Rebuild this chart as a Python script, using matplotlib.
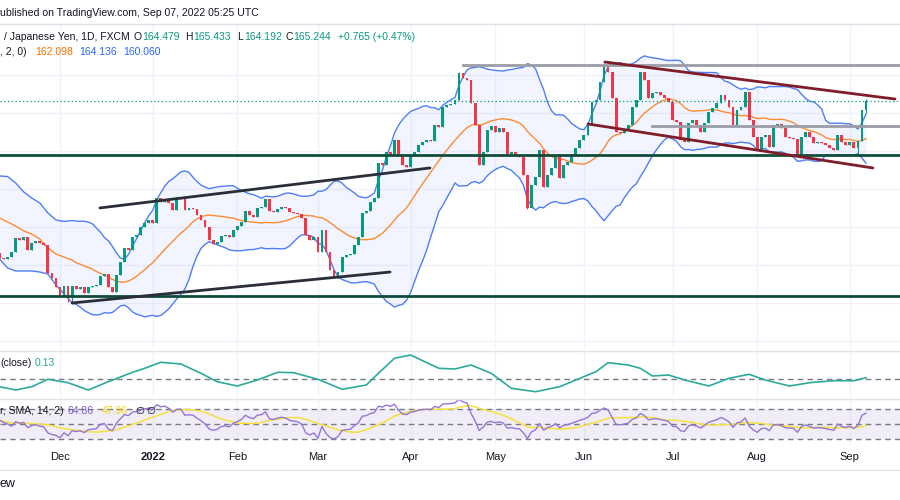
import numpy as np
import pandas as pd
import matplotlib
matplotlib.use("Agg")
import matplotlib.pyplot as plt

W, H = 900, 500

# ---------------- data ----------------
dates = pd.bdate_range("2021-11-10", "2022-09-07")   # daily bars GBP/JPY
first_open = 152.32
closes = [151.89, 151.81, 151.98, 152.40, 153.59, 153.42, 153.68, 152.57, 153.17, 153.34,
          153.17, 153.00, 150.62, 150.19, 149.43, 148.66, 149.51, 148.58, 149.51, 149.26,
          149.43, 148.92, 149.43, 149.51, 149.60, 150.36, 150.53, 149.43, 149.00, 150.45,
          151.55, 152.74, 152.57, 153.68, 153.85, 154.53, 154.87, 155.12, 154.87, 156.99,
          156.65, 156.91, 156.57, 155.97, 156.91, 156.99, 155.97, 156.14, 156.06, 155.55,
          155.12, 154.53, 153.42, 153.08, 153.25, 153.76, 153.85, 153.68, 154.27, 154.61,
          154.95, 155.89, 155.55, 155.38, 156.14, 156.23, 156.91, 155.89, 155.80, 156.06,
          156.23, 156.14, 155.80, 155.72, 155.63, 155.29, 153.85, 153.42, 153.68, 152.40,
          154.27, 152.40, 150.87, 150.19, 150.70, 151.98, 152.15, 152.23, 153.00, 153.68,
          155.72, 155.89, 156.65, 156.99, 159.97, 159.80, 160.91, 160.65, 161.93, 160.65,
          159.80, 159.63, 160.65, 160.91, 161.50, 161.76, 161.93, 161.84, 163.20, 163.03,
          164.73, 164.90, 164.99, 165.33, 167.62, 167.20, 167.03, 165.07, 163.20, 159.80,
          160.91, 162.78, 163.12, 162.61, 162.95, 162.61, 160.74, 160.91, 160.57, 160.48,
          158.95, 156.14, 158.10, 158.78, 161.08, 157.93, 158.95, 159.54, 160.65, 158.69,
          159.80, 160.05, 160.65, 161.25, 161.93, 162.35, 163.20, 165.16, 165.33, 166.86,
          168.30, 167.71, 165.50, 162.61, 162.52, 162.78, 163.20, 164.73, 165.33, 167.71,
          167.03, 165.50, 165.92, 166.01, 165.75, 165.50, 165.16, 163.63, 163.46, 161.93,
          161.76, 163.37, 163.63, 163.20, 162.61, 163.37, 164.31, 164.65, 165.07, 165.75,
          165.33, 164.73, 163.20, 164.48, 164.73, 166.01, 163.63, 162.18, 161.08, 162.18,
          162.35, 161.33, 163.20, 163.29, 162.95, 162.18, 162.10, 162.01, 160.65, 162.18,
          162.61, 162.18, 161.67, 161.76, 161.67, 161.50, 161.25, 161.08, 162.35, 161.76,
          161.50, 161.76, 161.25, 161.84, 164.48, 165.244]
wick_high = {215: 165.433, 114: 167.70, 150: 168.45}
wick_low = {18: 147.98, 17: 148.18, 213: 160.65, 215: 164.192, 131: 156.05}

# Bollinger band values visible before 20 bars of history exist
bb_lead_bars = [0, 2, 4, 6, 8, 10, 12, 14, 16, 18]
bb_lead_upper = [158.87, 158.82, 158.27, 157.51, 156.99, 156.57, 155.72, 155.13, 155.00, 155.08]
bb_lead_basis = [155.30, 154.95, 154.61, 154.19, 153.93, 153.51, 152.74, 152.23, 151.98, 151.72]
bb_lead_lower = [151.81, 151.04, 150.79, 150.79, 150.79, 150.70, 150.53, 149.60, 148.83, 148.07]

# RSI values for the first 14 bars (before RSI(14) can be computed)
rsi_lead = [55, 52, 50, 47, 53, 51, 52, 45, 48, 49, 47, 46, 38, 36]

# upper oscillator pane ("(close)") read at sample bars
osc_bars = [0, 4, 8, 12, 17, 22, 27, 33, 36, 40, 45, 50, 54, 59, 64, 69, 73, 79, 85, 91,
            94, 98, 102, 109, 113, 117, 122, 127, 133, 139, 144, 148, 151, 156, 159, 162,
            166, 170, 176, 181, 186, 190, 196, 201, 207, 212, 215]
osc_vals = [-0.77, -1.10, -0.77, -0.03, -0.37, -1.10, -0.27, 0.67, 1.07, 1.67, 1.50, 0.57,
            -0.27, -0.70, -0.10, 0.67, 0.63, -0.03, -1.03, -0.60, 0.57, 2.07, 2.40, 1.07,
            1.00, 1.40, 0.57, -0.93, -1.27, -0.77, 0.07, 0.73, 1.63, 1.40, 1.07, 0.30,
            0.40, -0.10, -0.70, 0.07, 0.47, -0.10, -0.70, -0.37, -0.17, -0.17, 0.13]

# drawings (bar index, price)
support_levels = [160.65, 148.66]
grey_levels = [(115.0, 168.30), (161.9, 163.08)]
black_lines = [((24.9, 156.15), (106.8, 159.55)), ((18.0, 148.07), (96.9, 150.70))]
maroon_lines = [((150.2, 168.56), (222.2, 165.41)), ((146.0, 163.29), (216.7, 159.55))]
last_close = 165.244

month_labels = ["Dec", "2022", "Feb", "Mar", "Apr", "May", "Jun", "Jul", "Aug", "Sep"]
month_starts = ["2021-12-01", "2022-01-03", "2022-02-01", "2022-03-01", "2022-04-01",
                "2022-05-02", "2022-06-01", "2022-07-01", "2022-08-01", "2022-09-01"]

# ---------------- derived series ----------------
c = np.array(closes)
o = np.r_[first_open, c[:-1]]
x = np.arange(len(c))
hi = np.maximum(o, c)
lo = np.minimum(o, c)
for k, v in wick_high.items():
    hi[k] = v
for k, v in wick_low.items():
    lo[k] = v

s = pd.Series(c)
basis = s.rolling(20).mean()
sd = s.rolling(20).std(ddof=0)
up_b = basis + 2 * sd
lo_b = basis - 2 * sd
bx = np.r_[bb_lead_bars, np.arange(19, len(c))]
bu = np.r_[bb_lead_upper, up_b.values[19:]]
bm = np.r_[bb_lead_basis, basis.values[19:]]
bl = np.r_[bb_lead_lower, lo_b.values[19:]]

# RSI(14) Wilder, seeded with simple average
d = np.diff(c)
g = np.clip(d, 0, None)
l = np.clip(-d, 0, None)
rsi = list(rsi_lead)
ag = g[:14].mean()
al = l[:14].mean()
rsi.append(100 - 100 / (1 + ag / al))
for i in range(14, len(d)):
    ag = (ag * 13 + g[i]) / 14
    al = (al * 13 + l[i]) / 14
    rsi.append(100 - 100 / (1 + ag / al))
rsi = np.array(rsi)
rsi_ma = pd.Series(rsi).rolling(14, min_periods=1).mean().values

# ---------------- figure ----------------
plt.rcParams["font.family"] = ["Liberation Sans", "DejaVu Sans"]
fig = plt.figure(figsize=(W / 100, H / 100), dpi=100)
fig.patch.set_facecolor("white")

px_per_bar = 4.03
x_lo = 15 - 60 / px_per_bar
x_hi = x_lo + W / px_per_bar
month_idx = [dates.get_loc(pd.Timestamp(m)) for m in month_starts]


def ax_at(y0, y1):
    a = fig.add_axes([0, 1 - y1 / H, 1, (y1 - y0) / H])
    a.set_xlim(x_lo, x_hi)
    a.set_axis_off()
    for mi in month_idx:
        a.axvline(mi, color="#f0f3fa", lw=1, zorder=0)
    return a


grid_c = "#f0f3fa"
ax = ax_at(24, 350)
py_top, ppy = 173.832, 11.76
ax.set_ylim(py_top - 350 / ppy, py_top - 24 / ppy)
for gy in [75, 113, 151, 189, 227, 265, 303, 341]:
    ax.axhline(py_top - gy / ppy, color=grid_c, lw=1, zorder=0)

ax.fill_between(bx, bl, bu, color="#2962ff", alpha=0.06, lw=0, zorder=1)
ax.plot(bx, bu, color="#4f7ff5", lw=1, zorder=2)
ax.plot(bx, bl, color="#4f7ff5", lw=1, zorder=2)
ax.plot(bx, bm, color="#ff8a30", lw=1, zorder=2)

upc, dnc = "#089981", "#f23645"
cols = np.where(c >= o, upc, dnc)
ax.vlines(x, lo, hi, colors=cols, lw=0.8, zorder=3)
ax.bar(x, np.maximum(np.abs(c - o), 0.07), bottom=np.minimum(o, c), width=0.7,
       color=cols, lw=0, zorder=4)

ax.axhline(last_close, color=upc, lw=0.9, ls=(0, (1, 2)), zorder=5)
for lv in support_levels:
    ax.axhline(lv, color="#0f4c3a", lw=2, zorder=6)
for x0, lv in grey_levels:
    ax.plot([x0, x_hi], [lv, lv], color="#9a9da6", lw=2, zorder=6)
for (a0, b0), (a1, b1) in black_lines:
    ax.plot([a0, a1], [b0, b1], color="#2a2e39", lw=2, zorder=6, solid_capstyle="round")
for (a0, b0), (a1, b1) in maroon_lines:
    ax.plot([a0, a1], [b0, b1], color="#7f1d2a", lw=2, zorder=6, solid_capstyle="round")

# oscillator pane
ax2 = ax_at(352, 398)
ax2.set_ylim(-1.9, 2.7)
ax2.axhline(0, color="#787b86", lw=1, ls=(0, (4, 3)))
ax2.plot(osc_bars, osc_vals, color="#2bab9b", lw=1.2)

# RSI pane
ax3 = ax_at(399, 443)
ax3.set_ylim(24.67, 83.33)
ax3.axhspan(30, 70, color="#7e57c2", alpha=0.1, lw=0)
for lv in (70, 50, 30):
    ax3.axhline(lv, color="#787b86", lw=1, ls=(0, (4, 3)))
ax3.plot(x, rsi_ma, color="#f5e03c", lw=1.1)
ax3.plot(x, rsi, color="#9575d6", lw=1)

# separators
for yy in (24, 351, 398.5, 470):
    fig.add_artist(plt.Line2D([0, 1], [1 - yy / H, 1 - yy / H], color="#e0e3eb", lw=1))

# texts
dark = "#131722"
fs = 7.5


def t(px, py, s, color=dark, **kw):
    fig.text(px / W, 1 - py / H, s, color=color, fontsize=kw.pop("fontsize", fs),
             va="center", ha=kw.pop("ha", "left"), **kw)


t(0, 13, "ublished on TradingView.com, Sep 07, 2022 05:25 UTC", fontsize=7.6)
t(4, 37, "/ Japanese Yen, 1D, FXCM")
t(134, 37, "O")
t(142, 37, "164.479", upc)
t(185, 37, "H")
t(193, 37, "165.433", upc)
t(237, 37, "L")
t(244, 37, "164.192", upc)
t(285, 37, "C")
t(293, 37, "165.244", upc)
t(338, 37, "+0.765 (+0.47%)", upc)
t(0, 52, ", 2, 0)")
t(35, 52, "162.098", "#ff6d00")
t(79, 52, "164.136", "#2962ff")
t(123, 52, "160.060", "#2962ff")
t(0, 363, "(close)")
t(35, 363, "0.13", "#26a69a")
t(0, 411, "r, SMA, 14, 2)")
t(68, 411, "64.86", "#7e57c2")
t(102, 411, "47.96", "#f5d90a")
t(135, 411, "\u2205", dark)
t(146, 411, "\u2205", dark)

for mi, lab in zip(month_idx, month_labels):
    xp = (mi - x_lo) * px_per_bar
    t(xp, 457, lab, ha="center", fontsize=8, fontweight="bold" if lab == "2022" else "normal")

t(0, 484, "ew", fontsize=9)

fig.savefig("out.png", dpi=100, facecolor="white")
